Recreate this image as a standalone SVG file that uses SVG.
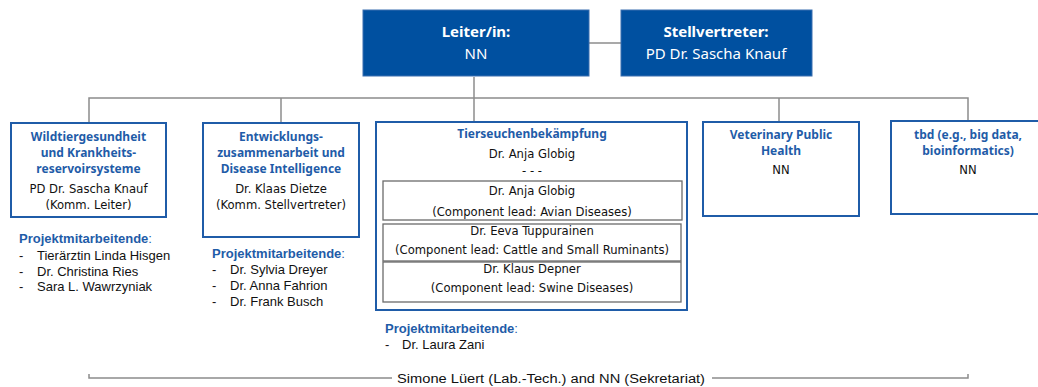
<svg xmlns="http://www.w3.org/2000/svg" width="1038" height="387" viewBox="0 0 1038 387">
<style>
.top{fill:#0050a0;stroke:#3a6fb0;stroke-width:1}
.node{fill:#fff;stroke:#1f5ca8;stroke-width:2}
.sub{fill:#fff;stroke:#6b6b6b;stroke-width:1.3}
.conn{fill:none;stroke:#8c8c8c;stroke-width:1.5}
.wt{font-family:"Noto Sans","DejaVu Sans",sans-serif;font-size:15px;fill:#fff;text-anchor:middle}
.wb{font-weight:bold}
.tt{font-family:"Noto Sans","DejaVu Sans",sans-serif;font-size:12px;font-weight:bold;fill:#1f5ca8;text-anchor:middle}
.bt{font-family:"DejaVu Sans Condensed","DejaVu Sans",sans-serif;font-size:12.9px;fill:#111;text-anchor:middle}
.ph{font-family:"Liberation Sans",Arial,sans-serif;font-size:13px;font-weight:bold;fill:#1f5ca8}
.ph tspan{font-weight:normal}
.li{font-family:"Liberation Sans",Arial,sans-serif;font-size:13px;fill:#111}
.ft{font-family:"Liberation Sans",Arial,sans-serif;font-size:12px;fill:#111;text-anchor:middle}
</style>
<rect width="1038" height="387" fill="#fff"/>
<g id="connectors">
<line class="conn" x1="589" y1="43" x2="621" y2="43"/>
<line class="conn" x1="474" y1="77" x2="474" y2="122"/>
<polyline class="conn" points="89,123 89,98 968,98 968,121"/>
<line class="conn" x1="281" y1="98" x2="281" y2="123"/>
<line class="conn" x1="779" y1="98" x2="779" y2="122"/>
<polyline class="conn" points="89,374 89,378 392,378"/>
<polyline class="conn" points="712,378 968,378 968,374"/>
</g>
<g id="leiter">
<rect class="top" x="363" y="10" width="226" height="66"/>
<text class="wt wb" x="476" y="37">Leiter/in:</text>
<text class="wt" x="476" y="59">NN</text>
</g>
<g id="stellvertreter">
<rect class="top" x="621" y="10" width="191" height="66"/>
<text class="wt wb" x="716" y="37">Stellvertreter:</text>
<text class="wt" x="716" y="59">PD Dr. Sascha Knauf</text>
</g>
<g id="wildtier">
<rect class="node" x="11" y="123" width="155" height="94"/>
<text class="tt" x="88.5" y="141">Wildtiergesundheit</text>
<text class="tt" x="88.5" y="157">und Krankheits-</text>
<text class="tt" x="88.5" y="173">reservoirsysteme</text>
<text class="bt" x="88.5" y="193">PD Dr. Sascha Knauf</text>
<text class="bt" x="88.5" y="208.5">(Komm. Leiter)</text>
</g>
<g id="wildtier-staff">
<text class="ph" x="19" y="243">Projektmitarbeitende<tspan>:</tspan></text>
<text class="li" x="19" y="260">-</text><text class="li" x="37" y="260">Tierärztin Linda Hisgen</text>
<text class="li" x="19" y="276">-</text><text class="li" x="37" y="276">Dr. Christina Ries</text>
<text class="li" x="19" y="291">-</text><text class="li" x="37" y="291">Sara L. Wawrzyniak</text>
</g>
<g id="entwicklung">
<rect class="node" x="203" y="123" width="156" height="114"/>
<text class="tt" x="281" y="141">Entwicklungs-</text>
<text class="tt" x="281" y="157">zusammenarbeit und</text>
<text class="tt" x="281" y="173">Disease Intelligence</text>
<text class="bt" x="281" y="193">Dr. Klaas Dietze</text>
<text class="bt" x="281" y="208.5">(Komm. Stellvertreter)</text>
</g>
<g id="entwicklung-staff">
<text class="ph" x="212" y="258">Projektmitarbeitende<tspan>:</tspan></text>
<text class="li" x="212" y="274">-</text><text class="li" x="230" y="274">Dr. Sylvia Dreyer</text>
<text class="li" x="212" y="290">-</text><text class="li" x="230" y="290">Dr. Anna Fahrion</text>
<text class="li" x="212" y="306">-</text><text class="li" x="230" y="306">Dr. Frank Busch</text>
</g>
<g id="tierseuchen">
<rect class="node" x="376" y="122" width="311" height="188"/>
<text class="tt" x="532" y="138">Tierseuchenbekämpfung</text>
<text class="bt" x="532" y="158">Dr. Anja Globig</text>
<text class="bt" x="532" y="175">- - -</text>
<rect class="sub" x="383" y="181" width="299" height="39"/>
<text class="bt" x="532" y="195">Dr. Anja Globig</text>
<text class="bt" x="532" y="216">(Component lead: Avian Diseases)</text>
<rect class="sub" x="383" y="224" width="298" height="37"/>
<text class="bt" x="532" y="235">Dr. Eeva Tuppurainen</text>
<text class="bt" x="532" y="254">(Component lead: Cattle and Small Ruminants)</text>
<rect class="sub" x="383" y="262" width="298" height="40"/>
<text class="bt" x="532" y="273">Dr. Klaus Depner</text>
<text class="bt" x="532" y="292">(Component lead: Swine Diseases)</text>
</g>
<g id="tierseuchen-staff">
<text class="ph" x="385" y="333">Projektmitarbeitende<tspan>:</tspan></text>
<text class="li" x="385" y="349">-</text><text class="li" x="402" y="349">Dr. Laura Zani</text>
</g>
<g id="vph">
<rect class="node" x="703" y="122" width="156" height="94"/>
<text class="tt" x="781" y="139">Veterinary Public</text>
<text class="tt" x="781" y="155">Health</text>
<text class="bt" x="781" y="174">NN</text>
</g>
<g id="tbd">
<rect class="node" x="891" y="121" width="154" height="93"/>
<text class="tt" x="968" y="139">tbd (e.g., big data,</text>
<text class="tt" x="968" y="155">bioinformatics)</text>
<text class="bt" x="968" y="174">NN</text>
</g>
<g id="footer">
<text class="ft" x="551" y="383" textLength="308" lengthAdjust="spacingAndGlyphs">Simone Lüert (Lab.-Tech.)  and NN (Sekretariat)</text>
</g>
</svg>
